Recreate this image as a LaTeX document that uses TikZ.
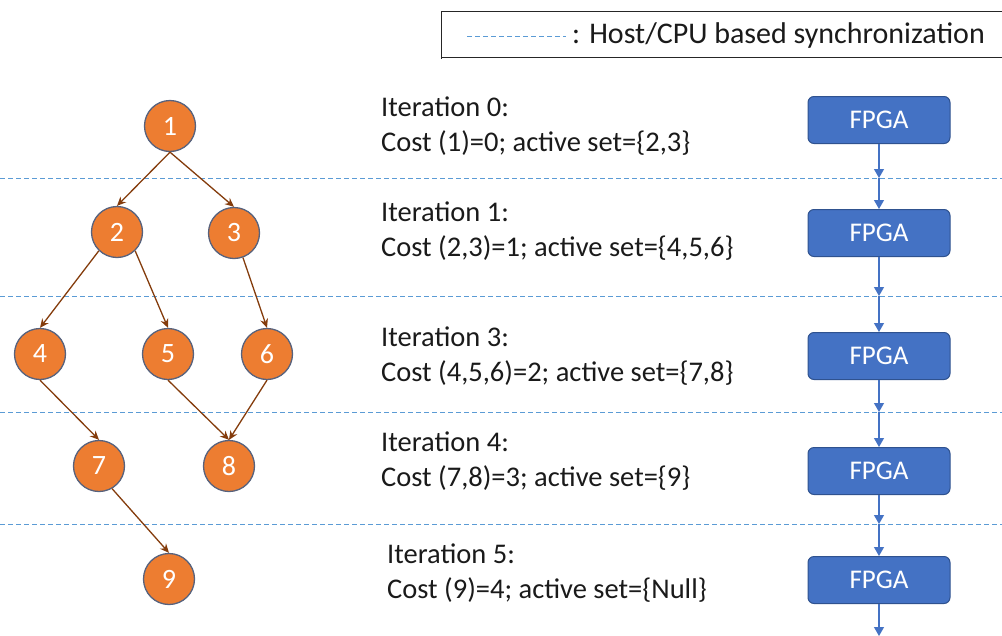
\documentclass[tikz,border=0pt]{standalone}
\usepackage{fontspec}
\setmainfont{Carlito}
\usetikzlibrary{arrows.meta}
\definecolor{nodeorange}{HTML}{ED7D31}
\definecolor{nodeedge}{HTML}{56627E}
\definecolor{edgebrown}{HTML}{843C0C}
\definecolor{boxblue}{HTML}{4472C4}
\definecolor{boxedge}{HTML}{2F528F}
\definecolor{syncblue}{HTML}{5B9BD5}
\definecolor{textgray}{HTML}{1A1A1A}
\tikzset{
  vertex/.style={circle, fill=nodeorange, draw=nodeedge, line width=1.3pt,
    minimum size=51pt, inner sep=0pt, text=white, font=\fontsize{28}{28}\selectfont},
  edge/.style={draw=edgebrown, line width=1.3pt,
    -{Stealth[length=9pt,width=8pt]}},
  fpga/.style={rounded corners=6pt, fill=boxblue, draw=boxedge, line width=1pt,
    minimum width=142pt, minimum height=47pt, text=white,
    font=\fontsize{27}{27}\selectfont},
  flow/.style={draw=boxblue, line width=1.2pt,
    -{Triangle[length=9pt,width=10pt]}},
  sync/.style={draw=syncblue, line width=1pt, dash pattern=on 5pt off 3pt},
  itertext/.style={anchor=west, align=left, text=textgray,
    font=\fontsize{28.5}{35}\selectfont, inner sep=0pt},
}
\begin{document}
\begin{tikzpicture}[x=1pt, y=-1pt]
\useasboundingbox (0,0) rectangle (1002,635);

% legend frame
\draw[line width=1pt, black!85] (1002,11) -- (441,11) -- (441,59);
\draw[line width=1pt, black!85] (441,57) -- (1002,57);
\draw[sync] (467,36) -- (566,36);
\node[anchor=west, inner sep=0pt, text=textgray, font=\fontsize{30}{30}\selectfont]
  (legend) at (572,35) {: Host/CPU based synchronization};

% host synchronization lines
\foreach \yy in {178,296,412,524} {
  \draw[sync] (0,\yy) -- (1002,\yy);
}

% search tree
\node[vertex] (n1) at (170,126) {1};
\node[vertex] (n2) at (117,232) {2};
\node[vertex] (n3) at (234,233) {3};
\node[vertex] (n4) at (40,354) {4};
\node[vertex] (n5) at (168,354) {5};
\node[vertex] (n6) at (267,354) {6};
\node[vertex] (n7) at (99,466) {7};
\node[vertex] (n8) at (229,466) {8};
\node[vertex] (n9) at (169,579) {9};

\draw[edge] (n1.south) -- (n2.north);
\draw[edge] (n1.south) -- (n3.north);
\draw[edge] (n2.226) -- (n4.north);
\draw[edge] (n2.314) -- (n5.north);
\draw[edge] (n3.290) -- (n6.north);
\draw[edge] (n4.south) -- (n7.north);
\draw[edge] (n5.south) -- (n8.north);
\draw[edge] (n6.south) -- (n8.north);
\draw[edge] (n7.300) -- (n9.north);

% iteration descriptions
\node[itertext] (t0) at (381,126) {Iteration 0:\\Cost (1)=0; active set=\{2,3\}};
\node[itertext] (t1) at (381,231) {Iteration 1:\\Cost (2,3)=1; active set=\{4,5,6\}};
\node[itertext] (t3) at (381,356) {Iteration 3:\\Cost (4,5,6)=2; active set=\{7,8\}};
\node[itertext] (t4) at (381,461) {Iteration 4:\\Cost (7,8)=3; active set=\{9\}};
\node[itertext] (t5) at (387,573) {Iteration 5:\\Cost (9)=4; active set=\{Null\}};

% FPGA stages
\node[fpga] (f0) at (879,120) {FPGA};
\node[fpga] (f1) at (879,233) {FPGA};
\node[fpga] (f2) at (879,356) {FPGA};
\node[fpga] (f3) at (879,471) {FPGA};
\node[fpga] (f4) at (879,580) {FPGA};

\coordinate (s1) at (879,178);
\coordinate (s2) at (879,296);
\coordinate (s3) at (879,412);
\coordinate (s4) at (879,524);
\coordinate (fend) at (879,636);

\draw[flow] (f0.south) -- (s1);
\draw[flow] (s1) -- (f1.north);
\draw[flow] (f1.south) -- (s2);
\draw[flow] (s2) -- (f2.north);
\draw[flow] (f2.south) -- (s3);
\draw[flow] (s3) -- (f3.north);
\draw[flow] (f3.south) -- (s4);
\draw[flow] (s4) -- (f4.north);
\draw[flow] (f4.south) -- (fend);
\end{tikzpicture}
\end{document}
